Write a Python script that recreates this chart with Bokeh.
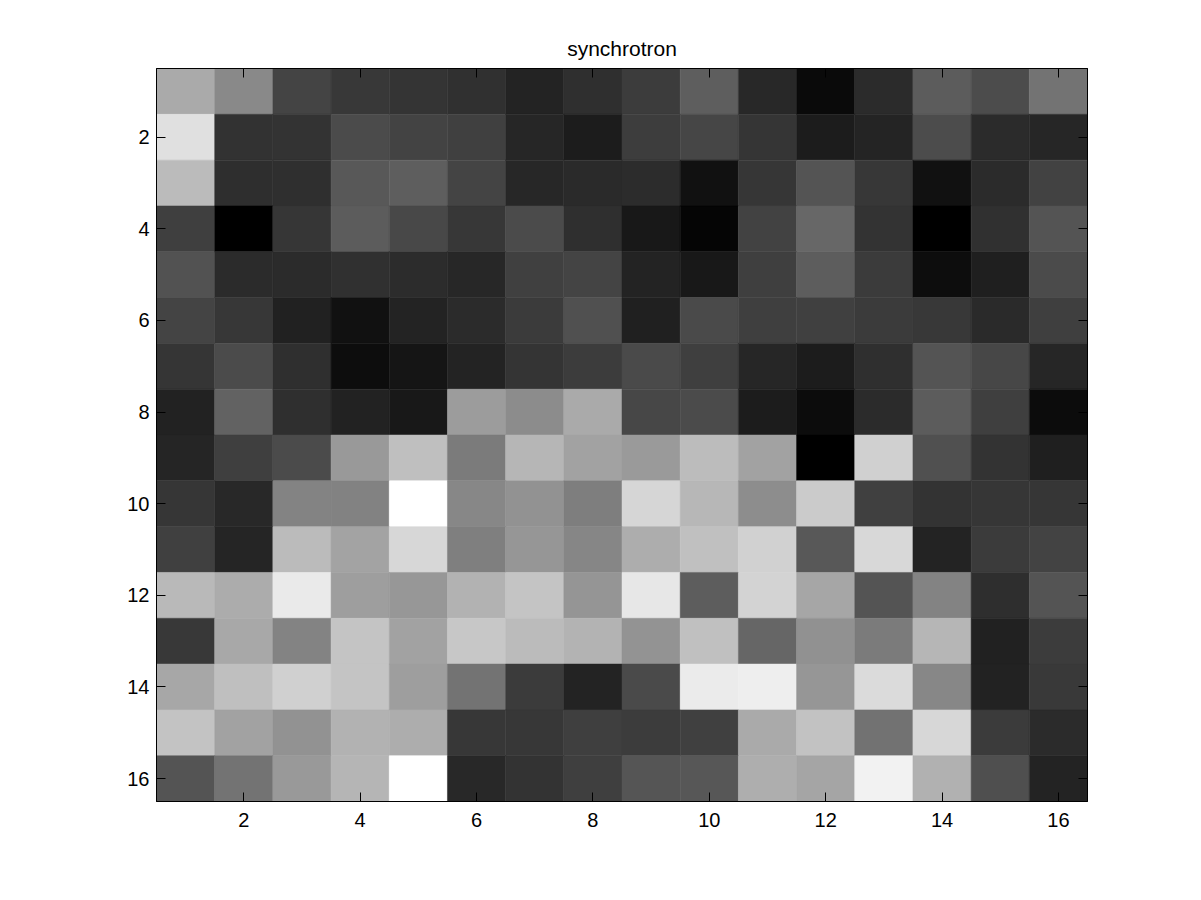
from bokeh.plotting import figure
from bokeh.models import Range1d, LinearAxis, FixedTicker, LinearColorMapper, ColumnDataSource
from bokeh.transform import transform
from bokeh.embed import file_html
from bokeh.resources import INLINE

# 16x16 intensity values (row 1 at top)
row01 = [170, 137, 68, 56, 52, 48, 35, 47, 60, 94, 40, 10, 43, 92, 76, 115]
row02 = [224, 50, 51, 75, 67, 64, 38, 28, 61, 70, 53, 28, 36, 76, 43, 38]
row03 = [187, 46, 47, 88, 94, 68, 39, 42, 44, 17, 54, 84, 55, 17, 43, 66]
row04 = [63, 0, 54, 92, 72, 55, 75, 47, 24, 5, 66, 103, 51, 0, 48, 84]
row05 = [82, 43, 43, 48, 44, 39, 64, 68, 35, 24, 63, 93, 59, 13, 31, 75]
row06 = [68, 55, 33, 17, 35, 43, 59, 80, 32, 74, 63, 64, 59, 56, 42, 63]
row07 = [53, 75, 47, 13, 21, 35, 52, 60, 74, 63, 38, 28, 47, 84, 71, 38]
row08 = [34, 98, 47, 34, 24, 156, 140, 170, 71, 75, 28, 12, 43, 92, 63, 12]
row09 = [37, 63, 75, 153, 191, 123, 182, 162, 154, 188, 162, 0, 208, 80, 51, 31]
row10 = [54, 40, 131, 130, 255, 135, 146, 126, 214, 183, 141, 203, 64, 51, 54, 54]
row11 = [64, 37, 187, 163, 215, 127, 150, 134, 173, 192, 209, 88, 216, 35, 59, 67]
row12 = [185, 172, 234, 158, 151, 178, 196, 149, 231, 93, 211, 166, 84, 131, 46, 84]
row13 = [56, 168, 131, 196, 162, 199, 187, 179, 147, 192, 102, 145, 123, 182, 33, 60]
row14 = [167, 191, 208, 196, 158, 115, 59, 35, 74, 235, 238, 150, 219, 135, 34, 57]
row15 = [195, 162, 146, 178, 173, 55, 55, 63, 60, 64, 170, 194, 114, 215, 59, 43]
row16 = [84, 115, 153, 181, 255, 40, 51, 63, 85, 87, 174, 165, 242, 177, 79, 35]

rows = [row01, row02, row03, row04, row05, row06, row07, row08,
        row09, row10, row11, row12, row13, row14, row15, row16]
ticks = [2, 4, 6, 8, 10, 12, 14, 16]

xs, ys, vals = [], [], []
for r, row in enumerate(rows):
    for c, v in enumerate(row):
        xs.append(c + 1)
        ys.append(r + 1)
        vals.append(v)

gray = ['#%02x%02x%02x' % (i, i, i) for i in range(256)]
mapper = LinearColorMapper(palette=gray, low=min(vals), high=max(vals))

FONT = "Liberation Sans"

p = figure(width=1185, height=884, output_backend="svg", toolbar_location=None,
           x_range=Range1d(0.5, 16.5), y_range=Range1d(16.5, 0.5),
           min_border_left=156, min_border_right=98,
           min_border_top=68, min_border_bottom=83)

src = ColumnDataSource(dict(x=xs, y=ys, v=vals))
p.rect(x='x', y='y', width=1, height=1, source=src,
       fill_color=transform('v', mapper), line_color=transform('v', mapper),
       line_width=0.5)

p.title.text = "synchrotron"
p.title.align = "center"
p.title.text_font = FONT
p.title.text_font_size = "21px"
p.title.text_font_style = "normal"
p.title.text_color = "black"
p.title.standoff = 18

p.grid.visible = False
p.background_fill_color = "white"
p.border_fill_color = "white"
p.outline_line_color = "black"
p.outline_line_width = 1
p.outline_line_alpha = 1

for ax in (p.xaxis[0], p.yaxis[0]):
    ax.ticker = FixedTicker(ticks=ticks)
    ax.major_tick_in = 9
    ax.major_tick_out = 0
    ax.minor_tick_line_color = None
    ax.major_label_text_font = FONT
    ax.major_label_text_font_size = "20px"
    ax.major_label_text_color = "black"
    ax.axis_line_color = "black"
    ax.major_tick_line_color = "black"
p.xaxis[0].major_label_standoff = 11
p.yaxis[0].major_label_standoff = 7

blank = {t: "" for t in ticks}
top = LinearAxis(ticker=FixedTicker(ticks=ticks), major_tick_in=9, major_tick_out=0,
                 minor_tick_line_color=None, major_label_overrides=blank,
                 major_label_standoff=0, axis_line_color="black",
                 major_tick_line_color="black")
right = LinearAxis(ticker=FixedTicker(ticks=ticks), major_tick_in=9, major_tick_out=0,
                   minor_tick_line_color=None, major_label_overrides=blank,
                   major_label_standoff=0, axis_line_color="black",
                   major_tick_line_color="black")
p.add_layout(top, "above")
p.add_layout(right, "right")

open("out.html", "w").write(file_html(p, INLINE))
